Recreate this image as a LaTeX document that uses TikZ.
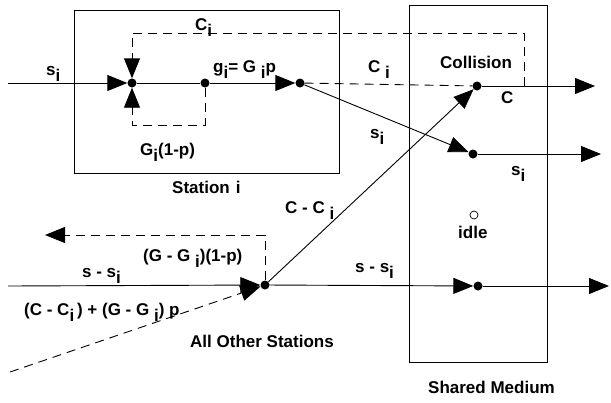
\documentclass[tikz,border=0pt]{standalone}
\usepackage{fontspec}
\setmainfont{Liberation Sans}
\usetikzlibrary{arrows.meta}
% lowered index letter
\newcommand\subi{\raisebox{-6pt}{i}}
\begin{document}
\begin{tikzpicture}[x=1pt,y=-1pt,
  lbl/.style={anchor=base west,inner sep=0pt,font=\fontsize{17}{20}\selectfont\bfseries},
  flow/.style={line width=0.9pt,-{Triangle[length=20pt,width=16pt]}},
  loopflow/.style={flow,dash pattern=on 9pt off 6pt},
  dashline/.style={line width=0.9pt,dash pattern=on 9pt off 6pt},
  plain/.style={line width=0.9pt},
  dot/.style={circle,fill,inner sep=0pt,minimum size=9pt},
  hollow/.style={circle,draw,line width=0.7pt,inner sep=0pt,minimum size=8pt},
  frame/.style={draw,line width=1pt}]
\useasboundingbox (0,0) rectangle (611,402);

% enclosures
\draw[frame] (74,10) rectangle (339,173);
\draw[frame] (409,5) rectangle (547,362);

% junction points
\node[dot] (join) at (132,83) {};
\node[dot] (split) at (205,83) {};
\node[dot] (out) at (300,83) {};
\node[dot] (coll) at (477,86) {};
\node[dot] (succ) at (473,154) {};
\node[dot] (others) at (265,285) {};
\node[dot] (med) at (478,286) {};
\node[hollow] (idle) at (474,215) {};

% free ends
\coordinate (in) at (8,83);
\coordinate (inleft) at (8,286);
\coordinate (collout) at (595,86);
\coordinate (succout) at (601,154);
\coordinate (medout) at (609,286);
\coordinate (back) at (45,235);
\coordinate (far) at (10,372);
\coordinate (cfb) at (524,86);

% station i flows
\draw[flow] (in) -- (join);
\draw[plain] (join) -- (split);
\draw[flow] (split) -- (out);
\draw[flow] (out) -- (succ);
\draw[flow] (succ) -- (succout);
\draw[dashline] (out) -- (coll);
\draw[loopflow] (cfb) -- (524,33) -- (132,33) -- (join);
\draw[loopflow] (split) -- (205,125) -- (132,125) -- (join);

% other stations and medium
\draw[flow] (inleft) -- (others);
\draw[loopflow] (far) -- (others);
\draw[flow] (others) -- (coll);
\draw[flow] (coll) -- (collout);
\draw[flow] (others) -- (med);
\draw[flow] (med) -- (medout);
\draw[loopflow] (others) -- (265,235) -- (back);

% labels
\node[lbl] at (46,75) {s\subi};
\node[lbl] at (195,30) {C\subi};
\node[lbl] at (213,72) {g\subi= G \subi p};
\node[lbl] at (140,155) {G\subi(1-p)};
\node[lbl] at (172,193) {Station\hspace{6pt}i};
\node[lbl] at (368,72) {C \subi};
\node[lbl] at (440,68) {Collision};
\node[lbl] at (501,103) {C};
\node[lbl] at (370,138) {s\subi};
\node[lbl] at (511,175) {s\subi};
\node[lbl] at (285,213) {C - C \subi};
\node[lbl] at (143,261) {(G - G \subi)(1-p)};
\node[lbl] at (82,277) {s - s\subi};
\node[lbl] at (24,315) {(C - C\subi\,) + (G - G \subi) p};
\node[lbl] at (190,347) {All Other Stations};
\node[lbl] at (355,272) {s - s\subi};
\node[lbl] at (458,238) {idle};
\node[lbl] at (428,393) {Shared Medium};
\end{tikzpicture}
\end{document}
